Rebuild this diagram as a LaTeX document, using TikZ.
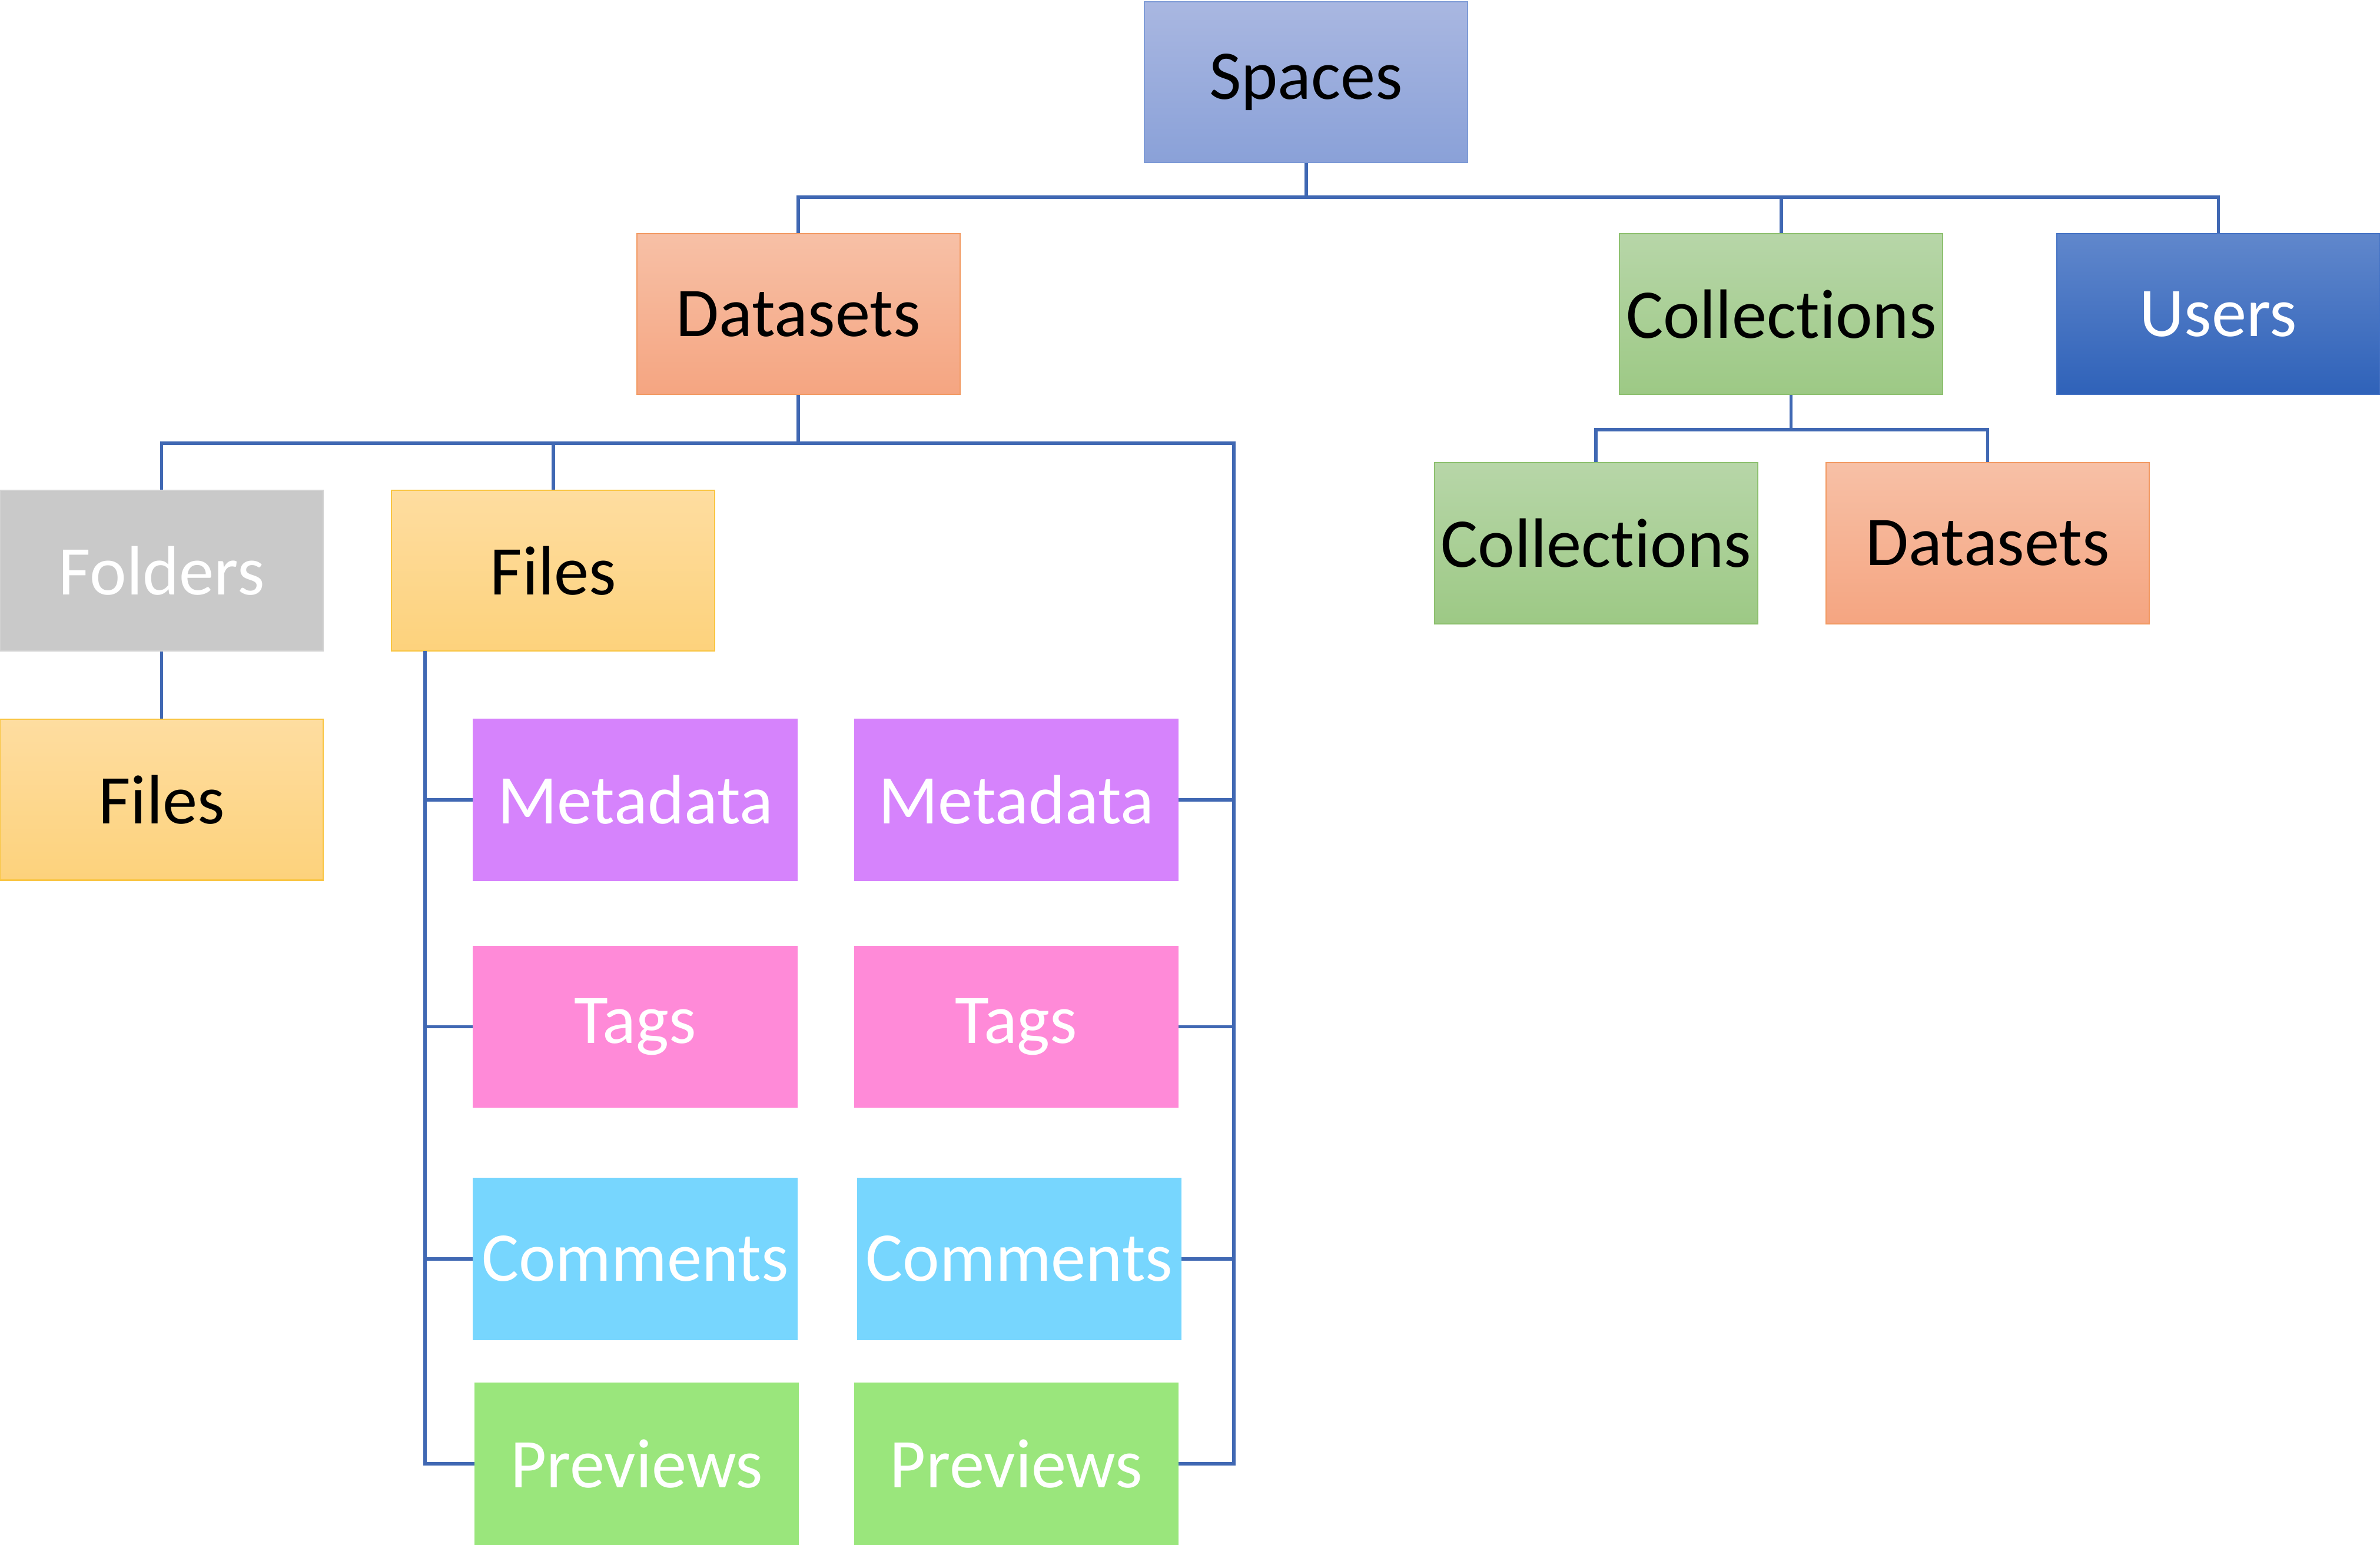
\documentclass[tikz,border=0pt]{standalone}
\usepackage{fontspec}
\setmainfont{Carlito}[RawFeature={-liga;-clig;-dlig}]
\newcommand{\Coll}{Collect\kern0pt ions}
\definecolor{lineblue}{HTML}{4068B3}
\definecolor{spT}{HTML}{A9B7E1}\definecolor{spB}{HTML}{8AA1D8}\definecolor{spD}{HTML}{7D9AD6}
\definecolor{dsT}{HTML}{F7C0A6}\definecolor{dsB}{HTML}{F5A581}\definecolor{dsD}{HTML}{F29A63}
\definecolor{coT}{HTML}{B7D6A8}\definecolor{coB}{HTML}{9DC985}\definecolor{coD}{HTML}{8DC06F}
\definecolor{usT}{HTML}{6087CC}\definecolor{usB}{HTML}{2F62B9}\definecolor{usD}{HTML}{4472C4}
\definecolor{foF}{HTML}{C9C9C9}\definecolor{foD}{HTML}{D3D3D3}
\definecolor{fiT}{HTML}{FEDDA0}\definecolor{fiB}{HTML}{FDD27C}\definecolor{fiD}{HTML}{F9C542}
\definecolor{meF}{HTML}{D683FC}
\definecolor{taF}{HTML}{FF8AD8}
\definecolor{cmF}{HTML}{77D6FE}
\definecolor{pvF}{HTML}{9AE67C}
\begin{document}
\begin{tikzpicture}[x=1pt,y=-1pt,
  box/.style={rectangle,minimum width=213pt,minimum height=106pt,inner sep=0pt,
    line width=0.8pt,font=\fontsize{46}{50}\selectfont},
  spacesbox/.style={box,top color=spT,bottom color=spB,draw=spD,text=black},
  datasetbox/.style={box,top color=dsT,bottom color=dsB,draw=dsD,text=black},
  collbox/.style={box,top color=coT,bottom color=coB,draw=coD,text=black},
  usersbox/.style={box,top color=usT,bottom color=usB,draw=usD,text=white},
  folderbox/.style={box,fill=foF,draw=foD,text=white},
  filebox/.style={box,top color=fiT,bottom color=fiB,draw=fiD,text=black},
  metabox/.style={box,fill=meF,draw=meF,text=white},
  tagbox/.style={box,fill=taF,draw=taF,text=white},
  commbox/.style={box,fill=cmF,draw=cmF,text=white},
  prevbox/.style={box,fill=pvF,draw=pvF,text=white},
  conn/.style={draw=lineblue,line width=2.2pt}]
\useasboundingbox (0,0) rectangle (1568,1018);

\node[spacesbox] (Spaces) at (860.5,54) {Spaces};
\node[datasetbox] (Datasets) at (526,207) {Datasets};
\node[collbox] (Collections) at (1173.5,207) {\Coll};
\node[usersbox] (Users) at (1461.5,207) {Users};
\node[folderbox] (Folders) at (106.5,376) {Folders};
\node[filebox] (Files1) at (364.5,376) {Files};
\node[filebox] (Files2) at (106.5,527) {Files};
\node[metabox] (MetaL) at (418.5,527) {Metadata};
\node[metabox] (MetaR) at (669.5,527) {Metadata};
\node[tagbox] (TagsL) at (418.5,676.5) {Tags};
\node[tagbox] (TagsR) at (669.5,676.5) {Tags};
\node[commbox] (CommL) at (418.5,829.5) {Comments};
\node[commbox] (CommR) at (671.5,829.5) {Comments};
\node[prevbox] (PrevL) at (419.5,964.5) {Previews};
\node[prevbox] (PrevR) at (669.5,964.5) {Previews};
\node[collbox] (Coll2) at (1051.5,358) {\Coll};
\node[datasetbox] (Data2) at (1309.5,358) {Datasets};

% top level
\coordinate (tb) at (860.5,130);
\draw[conn] (Spaces.south) -- (tb);
\draw[conn] (Datasets.north) |- (tb) -| (Users.north);
\draw[conn] (tb) -| (Collections.north);

% datasets level
\coordinate (db) at (526,292);
\coordinate (rr) at (813,292);
\draw[conn] (Datasets.south) -- (db);
\draw[conn] (Folders.north) |- (db) -- (rr) |- (PrevR.east);
\draw[conn] (Files1.north) -- (Files1.north |- db);
\draw[conn] (MetaR.east) -- (MetaR.east -| rr);
\draw[conn] (TagsR.east) -- (TagsR.east -| rr);
\draw[conn] (CommR.east) -- (CommR.east -| rr);

% folders
\draw[conn] (Folders.south) -- (Files2.north);

% files spine
\coordinate (ls) at (280,429);
\draw[conn] (ls) |- (PrevL.west);
\draw[conn] (MetaL.west) -- (MetaL.west -| ls);
\draw[conn] (TagsL.west) -- (TagsL.west -| ls);
\draw[conn] (CommL.west) -- (CommL.west -| ls);

% collections
\coordinate (cb) at (1180,283);
\draw[conn] (cb |- Collections.south) -- (cb);
\draw[conn] (Coll2.north) |- (cb) -| (Data2.north);
\end{tikzpicture}
\end{document}
